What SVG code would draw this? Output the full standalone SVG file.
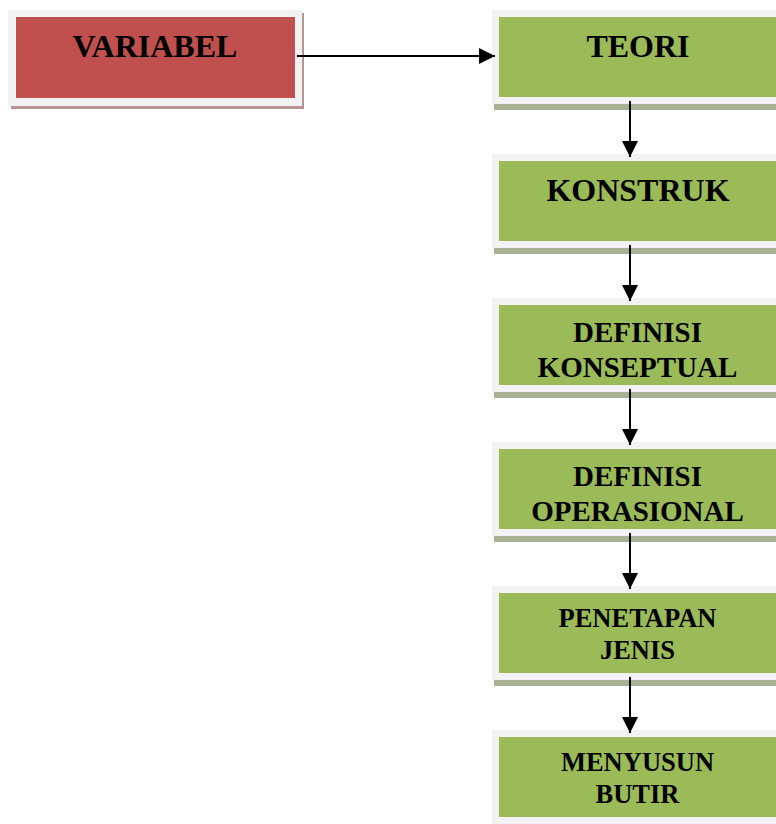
<svg xmlns="http://www.w3.org/2000/svg" width="776" height="824" viewBox="0 0 776 824">
<defs>
<style>
.frame{fill:#f2f2f2}
.red{fill:#c0504d}
.green{fill:#9bbb59}
.rshadow{fill:#b89494}
.gshadow{fill:#a7b193}
.t{font-family:"Liberation Serif","Times New Roman",serif;font-weight:bold;fill:#000;text-anchor:middle}
.big{font-size:32px}
.mid{font-size:29px}
.sm{font-size:26.5px}
.conn{stroke:#000;stroke-width:2;fill:none}
</style>
<marker id="ah" viewBox="0 0 16 16" refX="16" refY="8" markerWidth="16" markerHeight="16" markerUnits="userSpaceOnUse" orient="auto">
<path d="M0,0 L16,8 L0,16 Z" fill="#000"/>
</marker>
</defs>
<rect width="776" height="824" fill="#fff"/>

<g id="variabel">
<rect class="rshadow" x="11" y="13" width="293" height="96"/>
<rect class="frame" x="8" y="10" width="294" height="96"/>
<rect class="red" x="16" y="17" width="279" height="81"/>
<text class="t big" x="155" y="57">VARIABEL</text>
</g>

<g id="teori">
<rect class="gshadow" x="494" y="16" width="290" height="94"/>
<rect class="frame" x="492" y="10" width="290" height="94"/>
<rect class="green" x="499" y="17" width="290" height="80"/>
<text class="t big" x="638" y="57">TEORI</text>
</g>

<g id="konstruk">
<rect class="gshadow" x="494" y="160" width="290" height="94"/>
<rect class="frame" x="492" y="154" width="290" height="94"/>
<rect class="green" x="499" y="161" width="290" height="80"/>
<text class="t big" x="638" y="201">KONSTRUK</text>
</g>

<g id="definisi-konseptual">
<rect class="gshadow" x="494" y="304" width="290" height="94"/>
<rect class="frame" x="492" y="298" width="290" height="94"/>
<rect class="green" x="499" y="305" width="290" height="80"/>
<text class="t mid" x="637.5" y="342">DEFINISI</text>
<text class="t mid" x="637.5" y="377">KONSEPTUAL</text>
</g>

<g id="definisi-operasional">
<rect class="gshadow" x="494" y="448" width="290" height="94"/>
<rect class="frame" x="492" y="442" width="290" height="94"/>
<rect class="green" x="499" y="449" width="290" height="80"/>
<text class="t mid" x="637.5" y="486">DEFINISI</text>
<text class="t mid" x="637.5" y="521">OPERASIONAL</text>
</g>

<g id="penetapan-jenis">
<rect class="gshadow" x="494" y="592" width="290" height="94"/>
<rect class="frame" x="492" y="586" width="290" height="94"/>
<rect class="green" x="499" y="593" width="290" height="80"/>
<text class="t sm" x="637.5" y="627">PENETAPAN</text>
<text class="t sm" x="637.5" y="659">JENIS</text>
</g>

<g id="menyusun-butir">
<rect class="gshadow" x="494" y="736" width="290" height="94"/>
<rect class="frame" x="492" y="730" width="290" height="94"/>
<rect class="green" x="499" y="737" width="290" height="80"/>
<text class="t sm" x="637.5" y="771">MENYUSUN</text>
<text class="t sm" x="637.5" y="803">BUTIR</text>
</g>

<g id="connectors">
<line class="conn" x1="297" y1="56" x2="495" y2="56" marker-end="url(#ah)"/>
<line class="conn" x1="630" y1="101" x2="630" y2="157" marker-end="url(#ah)"/>
<line class="conn" x1="630" y1="245" x2="630" y2="301" marker-end="url(#ah)"/>
<line class="conn" x1="630" y1="389" x2="630" y2="445" marker-end="url(#ah)"/>
<line class="conn" x1="630" y1="533" x2="630" y2="589" marker-end="url(#ah)"/>
<line class="conn" x1="630" y1="677" x2="630" y2="733" marker-end="url(#ah)"/>
</g>
</svg>
